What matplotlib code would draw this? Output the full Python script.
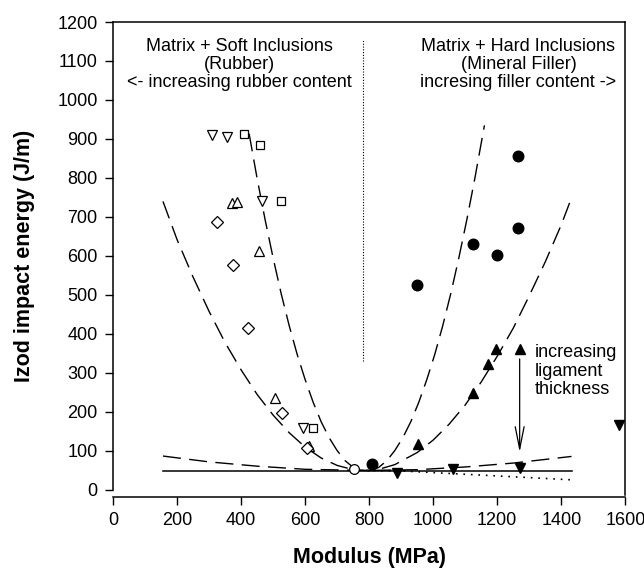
import numpy as np
from matplotlib import pyplot as plt

plt.rcParams['font.family'] = ['Liberation Sans', 'DejaVu Sans']

# ---- data ----
# soft inclusions (rubber), open markers
rub_dtri_x = [310, 355, 465, 592]
rub_dtri_y = [910, 905, 740, 160]
rub_sq_x = [410, 458, 524, 624]
rub_sq_y = [913, 885, 740, 160]
rub_utri_x = [372, 386, 455, 505, 612]
rub_utri_y = [736, 738, 612, 235, 112]
rub_dia_x = [325, 375, 420, 527, 605]
rub_dia_y = [688, 578, 415, 197, 108]
neat_x = [752]
neat_y = [54]

# hard inclusions (mineral filler), filled markers
fill_circ_x = [808, 948, 1123, 1198, 1266, 1266]
fill_circ_y = [67, 526, 630, 603, 856, 672]
fill_utri_x = [951, 1123, 1170, 1195, 1270]
fill_utri_y = [119, 249, 323, 361, 361]
fill_dtri_x = [886, 1061, 1270, 1580]
fill_dtri_y = [44, 55, 56, 167]

# trend curves
steep_x = [425, 450, 475, 500, 525, 550, 575, 600, 625, 650, 675, 700, 725, 750, 770, 790,
           810, 830, 855, 880, 905, 930, 955, 980, 1005, 1030, 1055, 1080, 1105, 1130, 1160]
steep_y = [914, 799, 693, 595, 504, 422, 348, 283, 225, 175, 134, 101, 75, 58, 51, 48,
           51, 58, 75, 101, 134, 175, 225, 283, 348, 422, 504, 595, 693, 799, 935]
wide_x = [156, 200, 250, 300, 350, 400, 450, 500, 550, 600, 650, 700, 750, 787,
          830, 880, 950, 1000, 1050, 1100, 1150, 1200, 1250, 1300, 1350, 1400, 1430]
wide_y = [740, 642, 546, 458, 378, 308, 245, 192, 147, 110, 82, 63, 52, 50,
          53, 65, 96, 128, 169, 218, 277, 343, 415, 498, 585, 680, 745]
flat_x = [156, 300, 450, 600, 790, 950, 1100, 1250, 1432]
flat_y = [87, 72, 61, 53, 50, 52, 59, 69, 86]
base_x = [156, 1432]
base_y = [49, 49]
drop_x = [790, 895, 1154, 1432]
drop_y = [50, 49, 38, 26]

fig = plt.figure(figsize=(6.44, 5.70), dpi=100)
ax = fig.add_axes([0.1755, 0.1404, 0.7955, 0.821])

# curves
dash = (13, 6)
ax.plot(steep_x, steep_y, color='k', lw=1.0, dashes=dash)
ax.plot(wide_x, wide_y, color='k', lw=1.0, dashes=dash)
ax.plot(flat_x, flat_y, color='k', lw=1.0, dashes=dash)
ax.plot(base_x, base_y, color='k', lw=1.1)
ax.plot(drop_x, drop_y, color='k', lw=1.2, ls=(0, (1, 3.5)))

# divider between soft and hard
ax.plot([780, 780], [330, 1155], color='k', lw=0.8, ls=(0, (1, 1.5)))

# markers
ax.plot(rub_dtri_x, rub_dtri_y, 'v', ms=7, mfc='white', mec='k', mew=0.9, ls='none')
ax.plot(rub_sq_x, rub_sq_y, 's', ms=6.3, mfc='white', mec='k', mew=0.9, ls='none')
ax.plot(rub_utri_x, rub_utri_y, '^', ms=7, mfc='white', mec='k', mew=0.9, ls='none')
ax.plot(rub_dia_x, rub_dia_y, 'D', ms=5.8, mfc='white', mec='k', mew=0.9, ls='none')
ax.plot(neat_x, neat_y, 'o', ms=7, mfc='white', mec='k', mew=0.9, ls='none')
ax.plot(fill_circ_x, fill_circ_y, 'o', ms=7.6, color='k', ls='none')
ax.plot(fill_utri_x, fill_utri_y, '^', ms=7.4, color='k', ls='none')
ax.plot(fill_dtri_x, fill_dtri_y, 'v', ms=7.4, color='k', ls='none')

# arrow for ligament thickness
ax.annotate('', xy=(1270, 97), xytext=(1270, 336),
            arrowprops=dict(arrowstyle='->,head_length=1.6,head_width=0.32',
                            color='k', lw=0.9, shrinkA=0, shrinkB=0))

# annotations
ax.text(396, 1092, 'Matrix + Soft Inclusions\n(Rubber)\n<- increasing rubber content',
        ha='center', va='center', fontsize=13, linespacing=1.08)
ax.text(1266, 1092, 'Matrix + Hard Inclusions\n(Mineral Filler)\nincresing filler content ->',
        ha='center', va='center', fontsize=13, linespacing=1.08)
ax.text(1316, 305, 'increasing\nligament\nthickness',
        ha='left', va='center', fontsize=13, linespacing=1.1)

# axes frame
ax.set_xlim(0, 1600)
ax.set_ylim(0, 1200)
ax.set_xticks(np.arange(0, 1601, 200))
ax.set_yticks(np.arange(0, 1201, 100))
ax.spines['bottom'].set_position(('outward', 5))
ax.spines['right'].set_bounds(-13, 1200)
for s in ax.spines.values():
    s.set_linewidth(1.1)
ax.tick_params(direction='out', length=6, width=1.0, labelsize=13, pad=5)

ax.set_xlabel('Modulus (MPa)', fontsize=15.5, fontweight='bold', labelpad=13)
ax.set_ylabel('Izod impact energy (J/m)', fontsize=15.5, fontweight='bold', labelpad=16)

plt.savefig('out.png', dpi=100)
